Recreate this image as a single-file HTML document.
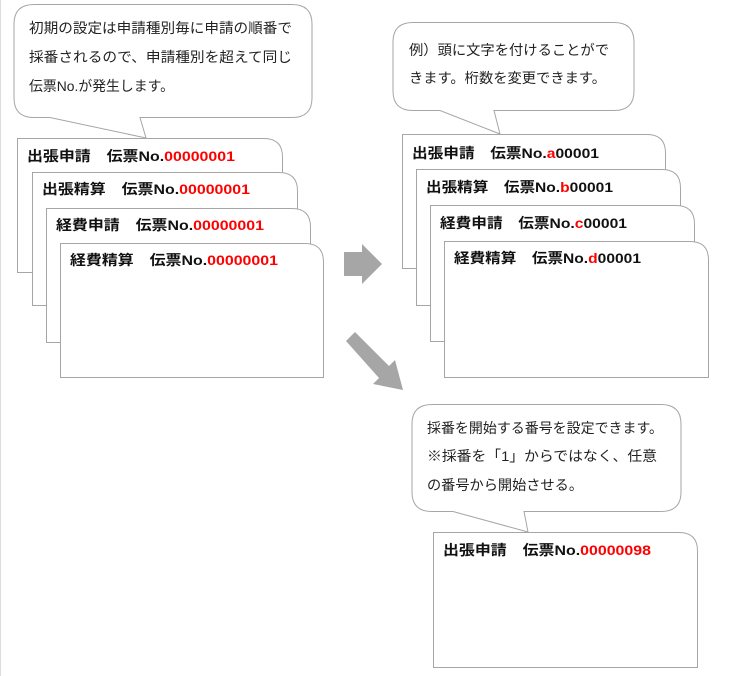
<!DOCTYPE html>
<html><head><meta charset="utf-8"><style>
html,body{margin:0;padding:0;background:#fff;}
svg{display:block;font-family:"Liberation Sans","Noto Sans CJK JP",sans-serif;}
.b{font-size:14px;font-weight:bold;fill:#111;}
.r{fill:#f00;}
.t{font-size:14px;fill:#222;}
</style></head><body>
<svg width="751" height="676" viewBox="0 0 751 676">
<line x1="0.5" y1="0" x2="0.5" y2="676" stroke="#ddd"/>
<g fill="#fff" stroke="#a6a6a6" stroke-width="1">
<path d="M34,4.5 H292 Q312,4.5 312,24 V98 Q312,117.5 292,117.5 H140 L146,138 L50,117.5 H34 Q14,117.5 14,98 V24 Q14,4.5 34,4.5Z"/>
<path d="M413,22.5 H614 Q634,22.5 634,42 V91 Q634,110.5 614,110.5 H494 L500,134 L440,110.5 H413 Q393,110.5 393,91 V42 Q393,22.5 413,22.5Z"/>
<path d="M432,404.5 H661 Q681,404.5 681,424 V492 Q681,511.5 661,511.5 H524 L528,532 L453,511.5 H432 Q412,511.5 412,492 V424 Q412,404.5 432,404.5Z"/>
<path d="M17.5,138.5 H264 Q282.5,138.5 282.5,157 V272.5 H17.5Z"/>
<path d="M32.5,172.5 H279 Q297.5,172.5 297.5,191 V305.5 H32.5Z"/>
<path d="M46.5,208.5 H292 Q310.5,208.5 310.5,227 V342.5 H46.5Z"/>
<path d="M60.5,243.5 H305 Q323.5,243.5 323.5,262 V377.5 H60.5Z"/>
<path d="M402.5,134.5 H647 Q665.5,134.5 665.5,153 V268.5 H402.5Z"/>
<path d="M416.5,169.5 H662 Q680.5,169.5 680.5,188 V305.5 H416.5Z"/>
<path d="M430.5,205.5 H676 Q694.5,205.5 694.5,224 V341.5 H430.5Z"/>
<path d="M444.5,241.5 H690 Q708.5,241.5 708.5,260 V377.5 H444.5Z"/>
<path d="M433.5,532.5 H679 Q697.5,532.5 697.5,551 V667.5 H433.5Z"/>
</g>
<polygon points="344,252 362,252 362,244 382,264 362,284 362,276 344,276" fill="#a6a6a6"/>
<polygon points="346,341 355,332 389,366 395,360 403,390 373,384 379,378" fill="#a6a6a6"/>
<text class="t" x="29" y="33" textLength="263" lengthAdjust="spacingAndGlyphs">初期の設定は申請種別毎に申請の順番で</text>
<text class="t" x="29" y="62" textLength="263" lengthAdjust="spacingAndGlyphs">採番されるので、申請種別を超えて同じ</text>
<text class="t" x="29" y="91" textLength="145" lengthAdjust="spacingAndGlyphs">伝票No.が発生します。</text>
<text class="t" x="409" y="55" textLength="200" lengthAdjust="spacingAndGlyphs">例）頭に文字を付けることがで</text>
<text class="t" x="409" y="83" textLength="197" lengthAdjust="spacingAndGlyphs">きます。桁数を変更できます。</text>
<text class="t" x="427" y="433" textLength="236" lengthAdjust="spacingAndGlyphs">採番を開始する番号を設定できます。</text>
<text class="t" x="427" y="461" textLength="230" lengthAdjust="spacingAndGlyphs">※採番を「1」からではなく、任意</text>
<text class="t" x="427" y="490" textLength="156" lengthAdjust="spacingAndGlyphs">の番号から開始させる。</text>
<text class="b" x="27" y="161" textLength="208" lengthAdjust="spacingAndGlyphs">出張申請　伝票No.<tspan class="r">00000001</tspan></text>
<text class="b" x="42" y="194" textLength="208" lengthAdjust="spacingAndGlyphs">出張精算　伝票No.<tspan class="r">00000001</tspan></text>
<text class="b" x="56" y="230" textLength="208" lengthAdjust="spacingAndGlyphs">経費申請　伝票No.<tspan class="r">00000001</tspan></text>
<text class="b" x="70" y="265" textLength="208" lengthAdjust="spacingAndGlyphs">経費精算　伝票No.<tspan class="r">00000001</tspan></text>
<text class="b" x="412" y="158" textLength="187" lengthAdjust="spacingAndGlyphs">出張申請　伝票No.<tspan class="r">a</tspan>00001</text>
<text class="b" x="426" y="192" textLength="187" lengthAdjust="spacingAndGlyphs">出張精算　伝票No.<tspan class="r">b</tspan>00001</text>
<text class="b" x="440" y="228" textLength="187" lengthAdjust="spacingAndGlyphs">経費申請　伝票No.<tspan class="r">c</tspan>00001</text>
<text class="b" x="454" y="263" textLength="187" lengthAdjust="spacingAndGlyphs">経費精算　伝票No.<tspan class="r">d</tspan>00001</text>
<text class="b" x="443" y="555" textLength="208" lengthAdjust="spacingAndGlyphs">出張申請　伝票No.<tspan class="r">00000098</tspan></text>
</svg>
</body></html>
